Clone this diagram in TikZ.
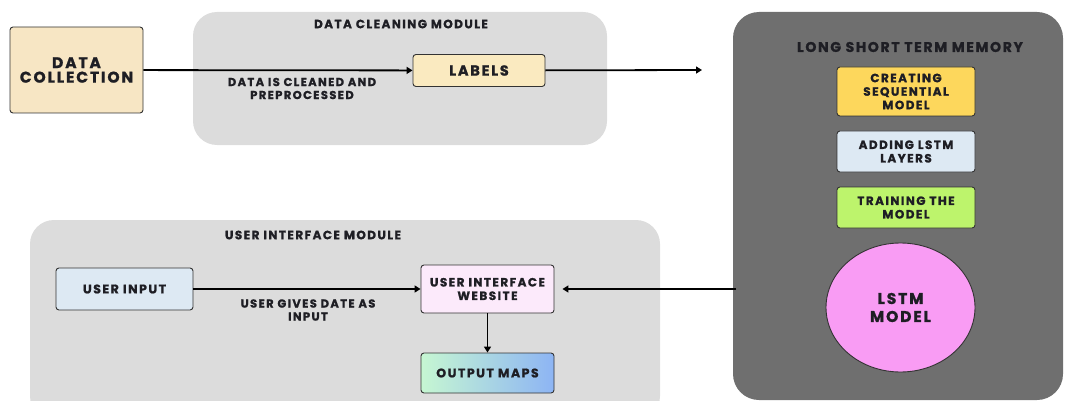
\documentclass[tikz,border=0pt]{standalone}
\usepackage{fontspec}
\setmainfont{Poppins}[LetterSpace=12, BoldFeatures={FakeBold=1.2}]
\usetikzlibrary{arrows.meta,shapes.geometric}
\definecolor{modgray}{HTML}{DCDCDC}
\definecolor{darkmod}{HTML}{6F6F6F}
\definecolor{beige}{HTML}{F7E6C4}
\definecolor{labelbeige}{HTML}{FAEAC0}
\definecolor{seqyellow}{HTML}{FDD75C}
\definecolor{lightblue}{HTML}{DDE9F3}
\definecolor{limegreen}{HTML}{BDF46C}
\definecolor{pinkell}{HTML}{F99CF4}
\definecolor{paleppink}{HTML}{FCEAFB}
\definecolor{gradgreen}{HTML}{C6F7D2}
\definecolor{gradblue}{HTML}{8DB4F4}
\definecolor{txt}{HTML}{1E1E24}
\begin{document}
\begin{tikzpicture}[x=1pt,y=-1pt,
  every node/.style={font=\bfseries, text=txt},
  module/.style={fill=modgray, rounded corners=24pt},
  darkmodule/.style={fill=darkmod, rounded corners=26pt},
  box/.style={draw=black!80, line width=0.9pt, rounded corners=3pt, align=center, inner sep=0pt},
  conn/.style={line width=1.8pt, -{Triangle[length=6pt,width=7pt]}},
  title/.style={font=\bfseries\fontsize{12}{13}\selectfont},
  boxtext/.style={font=\bfseries\fontsize{12}{13.5}\selectfont},
  edgetext/.style={font=\bfseries\fontsize{11.5}{13}\selectfont, align=center}
]
\useasboundingbox (0,0) rectangle (1065,401);
% modules
\path[module] (193,12) rectangle (607,145);
\path[module] (30,220) rectangle (660,420);
\path[darkmodule] (733,12) rectangle (1063,400);
\node[title] (t1) at (401,24) {DATA CLEANING MODULE};
\node[title] (t2) at (313,235) {USER INTERFACE MODULE};
\node[title, font=\bfseries\fontsize{14}{15}\selectfont] (t3) at (910,47) {LONG SHORT TERM MEMORY};
% nodes
\node[box, fill=beige, minimum width=133pt, minimum height=86pt, font=\bfseries\fontsize{15.5}{14.5}\selectfont] (dc) at (76.5,70) {DATA\\COLLECTION};
\node[box, fill=labelbeige, minimum width=132pt, minimum height=32pt, font=\bfseries\fontsize{14.5}{15}\selectfont] (lab) at (479,70.5) {LABELS};
\node[box, fill=seqyellow, minimum width=138pt, minimum height=49pt, boxtext] (seq) at (906,91.5) {CREATING\\SEQUENTIAL\\MODEL};
\node[box, fill=lightblue, minimum width=138pt, minimum height=41pt, boxtext] (add) at (906,151.5) {ADDING LSTM\\LAYERS};
\node[box, fill=limegreen, minimum width=138pt, minimum height=41pt, boxtext] (train) at (906,207.5) {TRAINING THE\\MODEL};
\node[ellipse, draw=black!80, line width=0.9pt, fill=pinkell, minimum width=149pt, minimum height=129pt, inner sep=0pt, align=center, font=\bfseries\fontsize{15.5}{18}\selectfont] (lstm) at (900.5,307.5) {LSTM\\MODEL};
\node[box, fill=lightblue, minimum width=137pt, minimum height=42pt, font=\bfseries\fontsize{12.5}{14}\selectfont] (ui) at (124.5,289) {USER INPUT};
\node[box, fill=paleppink, minimum width=133pt, minimum height=48pt, boxtext] (web) at (487.5,289) {USER INTERFACE\\WEBSITE};
\node[box, left color=gradgreen, right color=gradblue, minimum width=133pt, minimum height=40pt, font=\bfseries\fontsize{12.5}{14}\selectfont] (out) at (487.5,373) {OUTPUT MAPS};
% free ends
\coordinate (lstmout) at (702,70);
\coordinate (lstmin) at (736,289);
% connectors
\draw[conn] (dc) -- (lab);
\draw[conn] (lab) -- (lstmout);
\draw[conn] (ui) -- (web);
\draw[conn, shorten >=8pt] (lstmin) -- (web);
\draw[conn] (web) -- (out);
% edge labels
\node[edgetext] (l1) at (302,88.5) {DATA IS CLEANED AND\\PREPROCESSED};
\node[edgetext] (l2) at (308,310) {USER GIVES DATE AS\\INPUT};
\end{tikzpicture}
\end{document}
